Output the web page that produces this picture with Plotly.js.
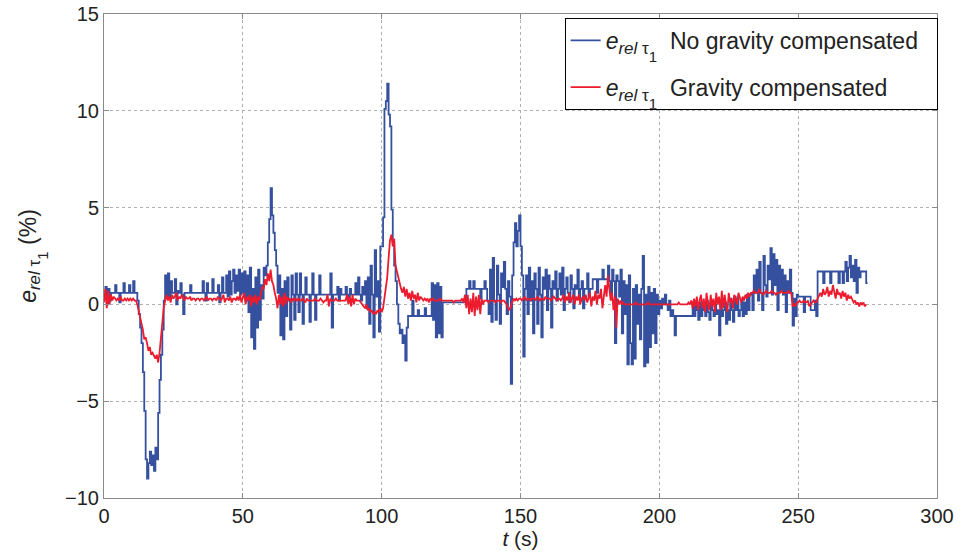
<!DOCTYPE html>
<html>
<head>
<meta charset="utf-8">
<script src="https://cdn.plot.ly/plotly-3.0.1.min.js"></script>
<style>html,body{margin:0;padding:0;background:#fff;}#chart{width:965px;height:553px;}</style>
</head>
<body>
<div id="chart"></div>
<script>
// sampling step (s)
const dt = 0.5;

// e_rel tau1, no gravity compensated (%)
const blueValues = [
0.3,0.9,0.0,0.8,0.2,0.6,0.6,0.6,1.0,0.6,
0.6,0.1,0.6,0.6,1.1,0.6,0.6,0.6,1.0,0.6,
0.6,1.2,0.6,0.6,0.2,-0.5,-1.2,-2.0,-3.5,-5.5,
-8.0,-9.0,-8.2,-7.6,-8.3,-7.8,-8.6,-7.4,-8.0,-5.6,
-3.9,-2.6,-1.3,0.2,1.5,0.4,1.6,0.3,1.2,0.6,
0.6,1.3,0.0,0.7,0.6,1.1,0.5,-0.5,0.6,0.6,
0.6,0.6,1.0,0.6,0.6,0.6,0.6,0.6,0.6,0.6,
0.6,1.2,0.6,0.2,1.1,0.6,0.6,0.6,1.3,0.6,
0.6,0.6,1.0,0.1,0.6,1.4,0.6,0.6,1.5,0.4,
1.7,0.5,1.2,1.8,0.6,1.5,0.7,1.8,0.5,1.6,
0.6,1.7,0.2,1.5,-0.4,1.9,-1.7,0.8,-2.3,1.4,
-1.2,1.8,-0.8,1.0,0.3,1.9,1.5,2.0,3.2,4.4,
6.0,4.6,3.7,2.8,2.0,0.6,1.5,-1.6,0.8,-1.8,
1.2,-0.6,1.4,0.2,-1.3,1.5,0.5,-0.8,1.6,0.5,
-0.4,1.6,0.5,-1.0,0.5,1.4,0.5,0.5,-0.9,0.5,
1.6,0.5,-0.8,0.5,0.5,1.5,0.5,0.5,0.5,0.5,
0.5,0.5,0.5,1.6,-1.2,0.5,0.5,0.5,0.9,0.2,
0.8,0.5,0.5,0.5,0.9,0.5,0.2,0.8,0.5,0.5,
0.5,1.1,0.5,1.4,0.5,0.2,0.9,0.5,1.2,-0.2,
1.4,-1.0,2.0,0.5,-1.7,2.8,0.4,1.2,-1.4,3.0,
3.0,4.5,10.1,10.5,11.4,9.8,9.2,4.9,3.2,2.0,
1.2,0.0,-1.0,-1.5,-1.3,-2.0,-1.6,-2.9,-1.2,-0.6,
-0.6,-0.6,0.2,-0.6,-0.6,-0.6,-0.3,-0.6,-0.6,-0.6,
-0.6,-0.2,-0.6,-0.6,-0.6,-0.6,1.1,-0.8,1.0,-1.7,
1.1,-1.5,0.9,-1.7,0.1,0.1,0.1,0.1,0.1,0.1,
0.1,0.1,0.1,0.1,0.1,0.1,0.1,0.1,0.1,0.1,
0.1,0.8,0.8,1.2,0.8,0.8,1.2,0.8,0.8,0.8,
0.8,0.3,0.8,0.8,1.2,0.8,0.2,-0.5,1.8,-0.9,
2.4,0.2,-0.8,2.0,0.5,-1.0,1.6,0.9,2.2,0.8,
-0.5,1.2,0.4,-4.1,1.5,3.2,4.2,3.0,3.8,4.6,
3.0,1.5,-2.7,0.8,1.5,-0.5,1.9,0.2,1.2,-1.5,
1.6,0.8,-1.0,1.9,0.5,-1.7,1.4,0.8,1.8,-0.3,
1.5,0.8,-1.2,1.2,0.8,1.7,0.2,0.8,1.6,0.5,
1.9,-0.3,0.8,1.4,0.6,0.1,1.5,0.8,-0.2,1.0,
0.8,1.8,0.3,0.8,1.2,-0.2,0.8,0.8,1.6,0.4,
0.8,0.8,1.3,1.3,1.3,0.6,1.3,1.3,1.3,1.8,
1.3,1.3,1.3,2.0,1.2,0.6,1.8,1.2,-2.0,1.5,
1.2,0.4,1.8,-1.5,1.2,-0.5,1.0,-3.1,1.5,-2.0,
-3.1,0.8,-2.8,1.0,-1.0,0.5,-1.8,0.8,2.5,-3.2,
0.5,-3.0,0.9,-2.2,0.6,-1.5,0.8,-2.0,0.5,-0.5,
0.2,-0.2,0.3,0.0,0.5,0.0,-0.3,0.2,-0.6,-0.3,
-0.6,-1.6,-0.6,-0.6,-0.6,-0.6,-0.6,-0.6,-0.6,-0.6,
-0.6,-0.6,-0.6,-0.6,0.1,-0.6,0.0,-0.3,-0.8,0.1,
-0.6,0.0,-0.3,-0.6,0.2,-0.4,-0.8,0.1,-0.3,-0.6,
0.0,-0.5,-0.3,-1.6,0.2,-0.6,-0.3,0.1,-1.0,-0.3,
-0.8,0.3,-0.3,-0.9,0.4,-0.3,0.3,-0.6,-0.3,0.2,
-0.6,0.1,-0.5,0.5,-0.3,0.5,0.6,-0.3,1.5,0.6,
1.8,0.2,2.2,0.6,-0.3,2.5,1.0,0.4,2.0,1.3,
2.9,0.5,2.6,1.0,2.3,-0.3,2.0,0.7,1.8,0.5,
1.5,-0.4,1.2,0.6,1.8,0.6,-1.1,0.3,-0.6,0.5,
0.4,0.4,0.4,0.4,-0.4,0.4,0.4,0.4,0.4,-0.3,
-0.3,-0.3,0.2,-0.6,1.7,1.7,1.7,1.7,1.1,1.7,
1.7,1.7,1.7,1.1,1.7,1.7,1.7,1.7,1.7,1.1,
1.7,1.7,1.1,1.7,2.2,1.2,1.9,2.5,1.4,2.0,
1.2,2.3,0.6,1.9,1.4,1.7,1.7,1.7,1.7,1.1,1.1
];

// e_rel tau1, gravity compensated (%)
const redValues = [
0.1,0.8,-0.2,0.7,0.0,0.5,0.2,0.4,0.3,0.2,
0.3,0.2,0.4,0.2,0.2,0.3,0.2,0.3,0.2,0.3,
0.2,0.3,0.2,0.2,0.0,-0.3,-0.6,-1.0,-1.3,-1.8,
-1.7,-2.0,-2.4,-2.2,-2.6,-2.5,-2.7,-2.8,-2.6,-3.0,
-2.5,-1.6,-0.9,-0.2,0.2,0.5,0.2,0.4,0.1,0.5,
0.3,0.4,0.6,0.2,0.4,0.3,0.5,0.3,0.2,0.4,
0.3,0.3,0.4,0.2,0.3,0.3,0.2,0.3,0.3,0.2,
0.3,0.3,0.2,0.3,0.4,0.2,0.3,0.3,0.2,0.3,
0.3,0.2,0.4,0.3,0.2,0.3,0.5,0.1,0.3,0.3,
0.2,0.4,0.1,0.3,0.3,0.2,0.4,0.2,0.5,0.1,
0.3,0.6,0.0,0.4,0.2,0.5,-0.1,0.4,0.1,0.5,
0.0,0.4,0.2,0.6,0.9,0.8,1.3,1.0,1.6,1.2,
1.8,1.2,1.0,0.6,0.3,-0.2,0.5,0.0,0.4,-0.1,
0.6,0.0,0.4,0.2,0.3,0.1,0.3,0.2,0.3,0.2,
0.3,0.2,0.2,0.3,0.2,0.1,0.3,0.2,0.2,0.2,
0.2,0.2,0.3,0.2,0.2,0.2,0.3,0.2,0.1,0.2,
0.2,0.5,-0.1,0.3,0.2,0.2,0.2,0.3,0.2,0.2,
0.2,0.2,0.2,0.2,0.2,0.5,0.0,0.4,-0.1,0.5,
0.0,0.3,0.2,0.2,0.2,0.1,0.0,-0.1,-0.2,0.0,
-0.3,-0.2,-0.4,-0.3,-0.5,-0.4,-0.5,-0.3,-0.4,-0.2,
-0.4,-0.2,0.3,0.8,1.4,2.4,3.3,3.6,3.0,3.4,
2.0,1.7,1.4,1.0,0.8,0.6,0.9,0.4,0.8,0.3,
0.6,0.2,0.7,0.3,0.5,0.1,0.6,0.2,0.4,0.3,
0.2,0.3,0.2,0.3,0.1,0.3,0.2,0.3,0.2,0.2,
0.2,0.2,0.3,0.2,0.2,0.2,0.2,0.2,0.2,0.2,
0.2,0.2,0.1,0.2,0.2,0.2,0.2,0.2,0.3,0.1,
0.5,-0.2,0.5,-0.5,0.3,-0.4,0.6,-0.6,0.4,-0.3,
0.5,-0.5,0.3,0.0,0.2,0.2,0.2,0.1,0.2,0.2,
0.2,0.2,0.1,0.2,0.2,0.2,0.1,0.2,0.2,0.1,
0.0,-0.2,-0.3,-0.1,0.1,0.3,0.2,0.3,0.2,0.3,
0.3,0.2,0.3,0.4,0.2,0.3,0.3,0.2,0.3,0.3,
0.3,0.2,0.4,0.3,0.2,0.3,0.3,0.2,0.4,0.3,
0.3,0.3,0.2,0.3,0.4,0.3,0.2,0.3,0.3,0.2,
0.3,0.5,0.1,0.4,0.2,0.6,0.1,0.3,0.5,0.0,
0.4,0.2,0.5,0.0,0.3,0.4,0.2,0.5,0.1,0.3,
0.6,-0.1,0.4,0.2,0.7,0.0,0.5,0.3,0.8,-0.2,
0.6,1.0,0.4,1.5,0.8,0.2,0.6,-0.3,0.4,-1.2,
0.3,0.0,0.2,0.0,0.1,0.0,0.0,0.0,0.0,0.0,
0.0,0.0,0.0,0.1,0.0,0.0,0.0,0.0,0.0,0.0,
0.0,0.0,0.1,0.0,0.0,0.0,0.0,0.0,0.0,0.0,
0.0,0.0,0.0,0.0,0.0,0.0,0.0,0.0,0.0,0.0,
0.0,0.0,0.0,0.0,0.1,0.0,0.0,0.0,0.0,0.0,
0.0,0.1,0.0,0.2,-0.2,0.3,-0.1,0.4,-0.3,0.2,
0.5,-0.2,0.3,-0.4,0.6,0.0,-0.3,0.5,-0.1,0.3,
-0.4,0.6,0.0,0.4,-0.3,0.7,-0.2,0.5,0.0,-0.4,
0.6,0.1,0.3,-0.2,0.5,0.2,0.0,0.6,0.3,0.1,
0.4,0.2,0.5,0.3,0.6,0.4,0.6,0.6,0.7,0.6,
0.6,0.6,0.8,0.6,0.6,0.5,0.6,0.7,0.6,0.6,
0.6,0.7,0.6,0.6,0.5,0.6,0.6,0.6,0.7,0.6,
0.6,0.6,0.6,0.7,0.6,0.6,-0.1,0.0,-0.1,0.1,
0.1,0.2,0.1,0.1,0.2,0.1,0.1,0.2,-0.1,0.0,
0.1,0.2,0.1,0.1,0.3,0.5,0.6,0.4,0.8,0.5,
0.6,0.9,0.4,0.7,0.5,1.0,0.6,0.3,0.8,0.5,
0.6,0.3,0.7,0.4,0.6,0.2,0.5,0.3,0.4,0.2,
0.1,0.2,0.0,0.1,-0.1,0.1,0.0,0.1,-0.1,0.0
];

const xTicks = [0, 50, 100, 150, 200, 250, 300];
const yTicks = [-10, -5, 0, 5, 10, 15];
const symbolText = '<i>e</i><sub><span style="font-size:17px"><i>rel</i> τ</span><span style="font-size:15px;baseline-shift:-8px">1</span></sub>';
const blueName = symbolText + '  No gravity compensated\u00a0\u00a0';
const redName = symbolText + '  Gravity compensated';
const yTitleText = '<i>e</i><sub><span style="font-size:17px"><i>rel</i> τ</span><span style="font-size:15px;baseline-shift:-8px">1</span></sub> (%)';

const tBlue = blueValues.map((_, i) => i * dt);
const tRed = redValues.map((_, i) => i * dt);

const font = "Liberation Sans, Arial, Helvetica, sans-serif";

const traces = [
  {x: tBlue, y: blueValues, type: 'scatter', mode: 'lines', name: blueName, legendgroup: 'g1',
   line: {color: '#34509e', width: 1.8, shape: 'hv'}},
  {x: tRed, y: redValues, type: 'scatter', mode: 'lines', name: redName, legendgroup: 'g2',
   line: {color: '#ec1c2e', width: 1.8}}
];

const axisCommon = {
  showline: true, linecolor: '#8a8a8a', linewidth: 1, mirror: 'ticks',
  ticks: 'inside', ticklen: 5, tickcolor: '#8a8a8a',
  showgrid: true, gridcolor: '#b0b0b0', griddash: 'dot', gridwidth: 1,
  zeroline: false, tickfont: {family: font, size: 20, color: '#222'}
};

const layout = {
  width: 965, height: 553,
  margin: {l: 104, r: 28, t: 14, b: 55},
  paper_bgcolor: '#fff', plot_bgcolor: '#fff',
  showlegend: true,
  xaxis: Object.assign({}, axisCommon, {
    range: [0, 300], tickvals: xTicks, ticktext: xTicks.map(String),
    title: {text: "<i>t</i> (s)", font: {family: font, size: 21, color: '#222'}, standoff: 2}
  }),
  yaxis: Object.assign({}, axisCommon, {
    range: [-10, 15], tickvals: yTicks, ticktext: yTicks.map(v => v < 0 ? '\u2212' + Math.abs(v) : String(v)),
    title: {text: yTitleText, font: {family: font, size: 23, color: '#222'}, standoff: 22}
  }),
  legend: {
    x: 0.553, y: 0.992, xanchor: 'left', yanchor: 'top',
    bgcolor: '#fff', bordercolor: '#000', borderwidth: 1,
    font: {family: font, size: 23, color: '#222'},
    traceorder: 'grouped', tracegroupgap: 14
  }
};

Plotly.newPlot('chart', traces, layout, {staticPlot: true, displayModeBar: false});
</script>
</body>
</html>
